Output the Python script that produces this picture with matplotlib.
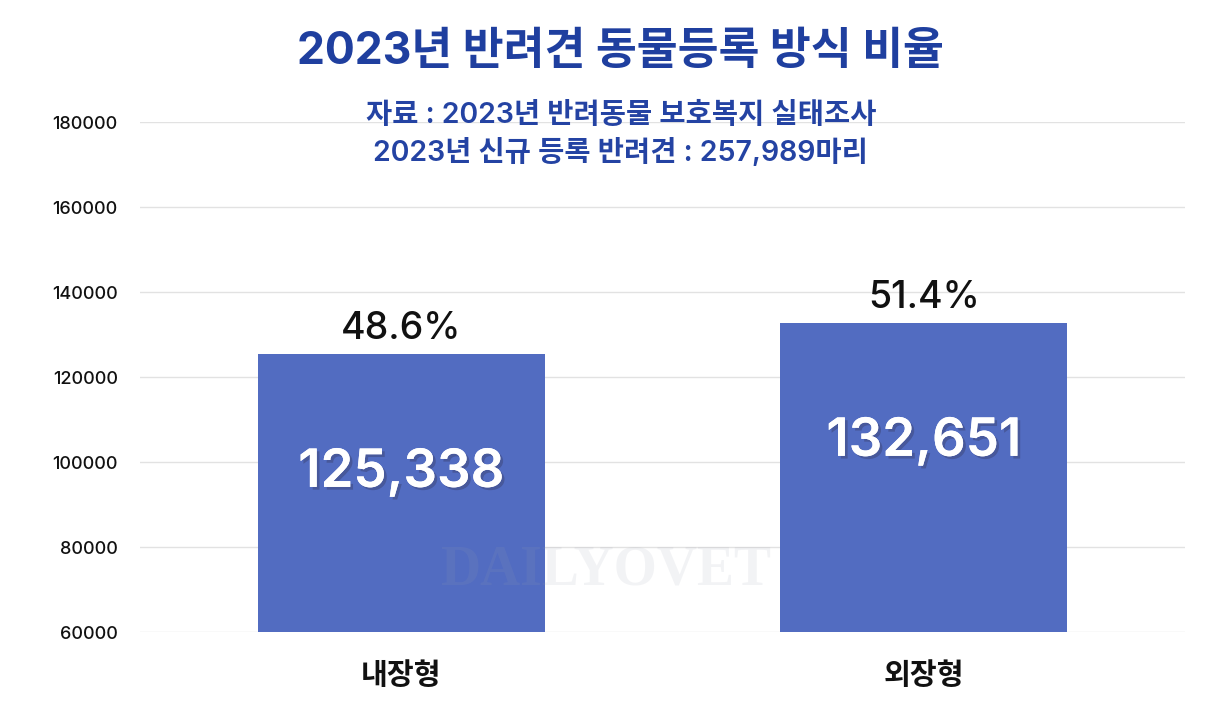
import matplotlib
matplotlib.use("Agg")
import matplotlib.pyplot as plt
import matplotlib.patheffects as pe

plt.rcParams['font.family'] = ['Inter', 'Noto Sans CJK KR', 'DejaVu Sans']

categories = ['내장형', '외장형']
values = [125338, 132651]
percents = ['48.6%', '51.4%']
value_labels = ['125,338', '132,651']
yticks = [60000, 80000, 100000, 120000, 140000, 160000, 180000]

title = '2023년 반려견 동물등록 방식 비율'
subtitle1 = '자료 : 2023년 반려동물 보호복지 실태조사'
subtitle2 = '2023년 신규 등록 반려견 : 257,989마리'

fig = plt.figure(figsize=(12.08, 7.19), dpi=100)
ax = fig.add_axes([0.116, 0.121, 0.865, 0.709])

x = list(range(len(categories)))
bar_color = '#526cc1'
ax.bar(x, values, width=0.55, color=bar_color, zorder=2)

ax.set_xlim(-0.5, 1.5)
ax.set_ylim(60000, 180000)
ax.set_yticks(yticks)
ax.set_yticklabels([str(t) for t in yticks], fontsize=13, fontweight='medium', color='#111111')
ax.set_xticks(x)
ax.set_xticklabels(categories, fontsize=21, fontweight='bold', color='#111111',
                   family=['Noto Sans CJK KR', 'DejaVu Sans'])
ax.tick_params(axis='both', length=0)
ax.tick_params(axis='y', pad=16)
ax.tick_params(axis='x', pad=20)
ax.grid(axis='y', color='#e2e2e2', linewidth=1.0, zorder=0)
for s in ax.spines.values():
    s.set_visible(False)

for xi, v, p, lbl in zip(x, values, percents, value_labels):
    ax.text(xi, v + 1800, p, ha='center', va='bottom', fontsize=27,
            fontweight='medium', color='#111111', zorder=3)
    ax.text(xi, v - 28000, lbl, ha='center', va='center', fontsize=38,
            fontweight='semibold', color='white', zorder=3,
            path_effects=[pe.withSimplePatchShadow(offset=(2, -2), shadow_rgbFace='#333355', alpha=0.35), pe.Normal()])

# watermark
ax.text(0.445, 0.12, 'DAILYOVET', transform=ax.transAxes, ha='center', va='center',
        fontsize=40, fontweight='bold', family='Liberation Serif', color='#9aa0b0',
        alpha=0.12, zorder=4)

fig.text(0.514, 0.928, title, ha='center', va='center', fontsize=32,
         fontweight='bold', color='#1f3f9f')
fig.text(0.514, 0.840, subtitle1, ha='center', va='center', fontsize=20.5,
         fontweight='semibold', color='#2443a3')
fig.text(0.514, 0.788, subtitle2, ha='center', va='center', fontsize=20.5,
         fontweight='semibold', color='#2443a3')

fig.savefig('out.png', dpi=100, facecolor='white')
